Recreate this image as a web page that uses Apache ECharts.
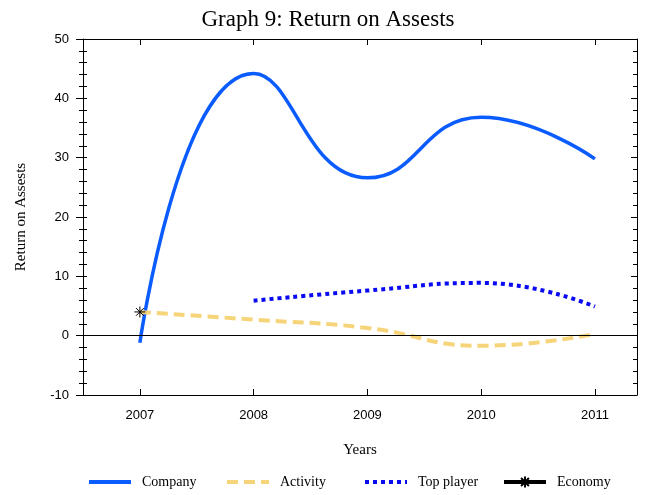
<!DOCTYPE html>
<html>
<head>
<meta charset="utf-8">
<script src="https://cdn.jsdelivr.net/npm/echarts@6/dist/echarts.min.js"></script>
<style>
  html, body { margin: 0; padding: 0; background: #fff; }
  #chart { width: 656px; height: 495px; }
</style>
</head>
<body>
<div id="chart"></div>
<script>
    // data
    var years = [2007, 2008, 2009, 2010, 2011]
    var company = [-1.2, 44.2, 26.6, 36.8, 29.8]
    var activity = [4.0, 2.7, 1.3, -1.7, 0.3]
    var topYears = [2008, 2009, 2010, 2011]
    var topPlayer = [5.9, 7.6, 8.9, 4.9]
    var economyYears = [2007]
    var economy = [4.0]
    var seriesNames = ['Company', 'Activity', 'Top player', 'Economy']

    function pairs (xs, ys) {
        return xs.map(function (x, i) { return [x, ys[i]] })
    }

    var serif = '"Liberation Serif", "DejaVu Serif", serif'
    var sans = '"Liberation Sans", "DejaVu Sans", sans-serif'
    var star = 'path://M0,5L10,5M5,0L5,10M1.5,1.5L8.5,8.5M8.5,1.5L1.5,8.5'

    // one legend per entry, the spacing in the picture is uneven
    var legendLeft = [87, 225, 363, 502]
    var legends = seriesNames.map(function (name, i) {
        return {
            top: 475,
            left: legendLeft[i],
            padding: 0,
            itemWidth: 42,
            itemHeight: 14,
            textStyle: { fontFamily: serif, fontSize: 14, color: '#000', padding: [0, 0, 0, 6] },
            data: [{
                name: name,
                itemStyle: i < 3 ? { opacity: 0 } : undefined,
                lineStyle: { width: 4 }
            }]
        }
    })

    var xCommon = {
        type: 'value',
        min: 2006.5,
        max: 2011.37,
        axisLine: { onZero: false, lineStyle: { color: '#000', width: 1 } },
        splitLine: { show: false }
    }

    var chart = echarts.init(document.getElementById('chart'))
    chart.setOption({
        animation: false,
        title: {
            text: 'Graph 9: Return on Assests',
            left: 'center',
            top: 3,
            textStyle: { fontFamily: serif, fontSize: 23, fontWeight: 'normal', color: '#000' }
        },
        grid: { left: 83, right: 19, top: 39, bottom: 100 },
        legend: legends,
        xAxis: [Object.assign({}, xCommon, {
            name: 'Years',
            nameLocation: 'middle',
            nameGap: 48,
            nameTextStyle: { fontFamily: serif, fontSize: 15, color: '#000' },
            axisTick: { inside: true, length: 6, lineStyle: { color: '#000' }, customValues: years },
            axisLabel: {
                fontFamily: sans, fontSize: 13, color: '#000', margin: 14,
                customValues: years,
                formatter: function (v) { return String(v) }
            }
        }), Object.assign({}, xCommon, {
            position: 'top',
            axisTick: { inside: true, length: 6, lineStyle: { color: '#000' }, customValues: years },
            axisLabel: { show: false }
        })],
        yAxis: [{
            type: 'value',
            min: -10,
            max: 50,
            interval: 10,
            name: 'Return on Assests',
            nameLocation: 'middle',
            nameGap: 54,
            nameTextStyle: { fontFamily: serif, fontSize: 15, color: '#000' },
            axisLine: { lineStyle: { color: '#000', width: 1 } },
            axisTick: { length: 7, lineStyle: { color: '#000' } },
            minorTick: { show: true, splitNumber: 5, length: 4, lineStyle: { color: '#000' } },
            axisLabel: { fontFamily: sans, fontSize: 13, color: '#000', margin: 14 },
            splitLine: { show: false }
        }, {
            // inner half of the crossing ticks on the left
            type: 'value',
            position: 'left',
            min: -10,
            max: 50,
            interval: 10,
            axisLine: { show: false },
            axisTick: { inside: true, length: 4, lineStyle: { color: '#000' } },
            minorTick: { show: true, splitNumber: 5, length: 4, lineStyle: { color: '#000' } },
            axisLabel: { show: false },
            splitLine: { show: false }
        }, {
            type: 'value',
            position: 'right',
            min: -10,
            max: 50,
            interval: 10,
            axisLine: { show: true, lineStyle: { color: '#000', width: 1 } },
            axisTick: { inside: true, length: 6, lineStyle: { color: '#000' } },
            minorTick: { show: true, splitNumber: 5, length: 4, lineStyle: { color: '#000' } },
            axisLabel: { show: false },
            splitLine: { show: false }
        }],
        series: [{
            name: 'Company',
            type: 'line',
            smooth: 0.5,
            showSymbol: false,
            symbol: 'none',
            data: pairs(years, company),
            itemStyle: { color: '#0b5cff' },
            lineStyle: { color: '#0b5cff', width: 3.5 },
            markLine: {
                silent: true,
                symbol: 'none',
                label: { show: false },
                lineStyle: { color: '#000', width: 1, type: 'solid' },
                data: [{ yAxis: 0 }]
            }
        }, {
            name: 'Activity',
            type: 'line',
            smooth: 0.5,
            symbol: 'none',
            data: pairs(years, activity),
            itemStyle: { color: '#f6d47a' },
            lineStyle: { color: '#f6d47a', width: 4, type: [11, 6] }
        }, {
            name: 'Top player',
            type: 'line',
            smooth: 0.5,
            symbol: 'none',
            data: pairs(topYears, topPlayer),
            itemStyle: { color: '#0a0af0' },
            lineStyle: { color: '#0a0af0', width: 4, type: [4, 4] }
        }, {
            name: 'Economy',
            type: 'line',
            symbol: star,
            symbolSize: 11,
            showSymbol: true,
            data: pairs(economyYears, economy),
            itemStyle: { color: 'rgba(0,0,0,0)', borderColor: '#000', borderWidth: 1 },
            lineStyle: { color: '#000', width: 4 },
            z: 5
        }]
    })
</script>
</body>
</html>
